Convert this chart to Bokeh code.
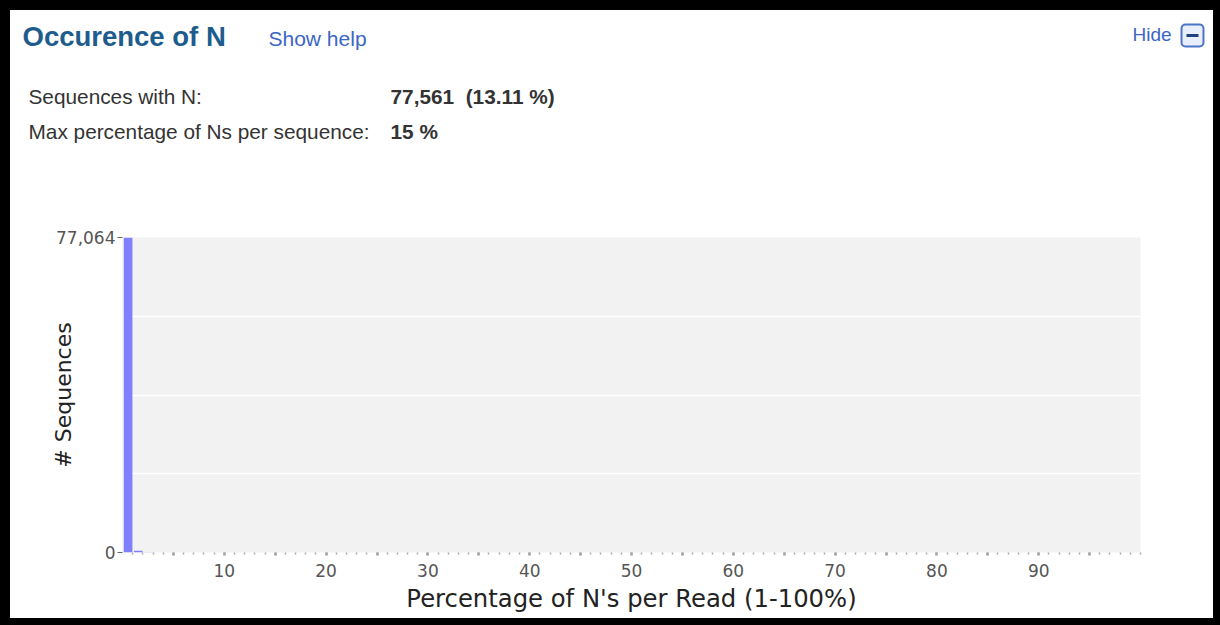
from bokeh.plotting import figure
from bokeh.layouts import column
from bokeh.models import Range1d, FixedTicker, NumeralTickFormatter, ColumnDataSource
from bokeh.core.properties import value
from bokeh.transform import dodge
from bokeh.embed import file_html
from bokeh.resources import INLINE

# Histogram of N content per read (percentage bins 1..100)
pct_bins = [1, 2, 3, 4, 5, 6, 7, 8, 9, 10, 11, 12, 13, 14, 15]
seq_counts = [77064, 398, 61, 17, 8, 4, 3, 2, 1, 1, 1, 0, 0, 0, 1]

title_text = "Occurence of N"
help_text = "Show help"
hide_text = "Hide"
stat_names = ["Sequences with N:", "Max percentage of Ns per sequence:"]
stat_values = ["77,561\u00a0 (13.11 %)", "15 %"]

x_label_ticks = [10, 20, 30, 40, 50, 60, 70, 80, 90]
x_major_ticks = list(range(5, 100, 5))
x_minor_ticks = list(range(1, 101))

INNER_W = 1203
HEAD_H = 207
PLOT_H = 401
y_max = max(seq_counts)

# ---- header panel: page-pixel coordinates (y grows downward) ----
head = figure(width=INNER_W, height=HEAD_H, output_backend="svg", toolbar_location=None,
              x_range=Range1d(10, 10 + INNER_W), y_range=Range1d(10 + HEAD_H, 10),
              min_border_left=0, min_border_right=0, min_border_top=0, min_border_bottom=0)
head.frame_align = False
head.axis.visible = False
head.grid.visible = False
head.outline_line_color = None
head.background_fill_color = "white"
head.border_fill_color = "white"

def head_text(x, y, txt, size, color, style="normal"):
    head.text(x=[x], y=[y], text=[txt], text_font=value("Liberation Sans"),
              text_font_size=size, text_color=color, text_font_style=style,
              text_baseline="middle", text_align="left")

head_text(22, 36, title_text, "27.5px", "#1d5d8d", "bold")
head_text(268, 38, help_text, "21px", "#3a66c4")
head_text(1132, 34, hide_text, "19px", "#3a66c4")
for i, (name, val) in enumerate(zip(stat_names, stat_values)):
    yy = 96 + 35 * i
    head_text(28, yy, name, "20.8px", "#333333")
    head_text(390, yy, val, "20.8px", "#333333", "bold")

# collapse button next to "Hide"
head.quad(left=[1181], right=[1203], top=[24], bottom=[46], fill_color="#e9eefb",
          line_color="#4a74c8", line_width=2, border_radius=4)
head.segment(x0=[1186], x1=[1198], y0=[35], y1=[35], line_color="#22407e", line_width=3)

# ---- histogram panel ----
src = ColumnDataSource(dict(pct=pct_bins, n=seq_counts))

p = figure(width=INNER_W, height=PLOT_H, output_backend="svg", toolbar_location=None,
           x_range=Range1d(0, 100), y_range=Range1d(0, y_max),
           min_border_left=112, min_border_right=73,
           min_border_top=20, min_border_bottom=66)
p.frame_align = False
p.border_fill_color = "white"
p.background_fill_color = "#f2f2f2"
p.outline_line_color = None

p.vbar(x=dodge("pct", -0.45, range=p.x_range), top="n", bottom=0, width=0.85,
       source=src, fill_color="#8080ff", line_color=None)

# x axis: dotted ticks every percent, labels every ten
xa = p.xaxis[0]
xa.ticker = FixedTicker(ticks=x_major_ticks, minor_ticks=x_minor_ticks)
xa.major_label_overrides = {t: "" for t in x_major_ticks if t not in x_label_ticks}
xa.axis_line_color = None
xa.major_tick_in = 0
xa.major_tick_out = 3
xa.major_tick_line_width = 2.5
xa.major_tick_line_color = "#999999"
xa.minor_tick_in = 0
xa.minor_tick_out = 2
xa.minor_tick_line_width = 1.5
xa.minor_tick_line_color = "#aaaaaa"
xa.major_label_text_font = "DejaVu Sans"
xa.major_label_text_font_size = "17px"
xa.major_label_text_color = "#555555"
xa.major_label_standoff = 8
xa.axis_label = "Percentage of N's per Read (1-100%)"
xa.axis_label_text_font = "DejaVu Sans"
xa.axis_label_text_font_size = "24.3px"
xa.axis_label_text_font_style = "normal"
xa.axis_label_text_color = "#222222"
xa.axis_label_standoff = 4

# y axis: only zero and the maximum are labelled
ya = p.yaxis[0]
ya.ticker = FixedTicker(ticks=[0, y_max])
ya.formatter = NumeralTickFormatter(format="0,0")
ya.axis_line_color = None
ya.major_tick_in = 0
ya.major_tick_out = 5
ya.major_tick_line_color = "#666666"
ya.minor_tick_line_color = None
ya.major_label_text_font = "DejaVu Sans"
ya.major_label_text_font_size = "17px"
ya.major_label_text_color = "#555555"
ya.major_label_standoff = 2
ya.axis_label = "# Sequences"
ya.axis_label_text_font = "DejaVu Sans"
ya.axis_label_text_font_size = "22px"
ya.axis_label_text_font_style = "normal"
ya.axis_label_text_color = "#222222"
ya.axis_label_standoff = -23

p.xgrid.grid_line_color = None
p.ygrid.ticker = FixedTicker(ticks=[y_max * k / 4 for k in (1, 2, 3)])
p.ygrid.grid_line_color = "white"
p.ygrid.grid_line_width = 1.5

# black frame around the whole panel
layout = column(head, p, spacing=0,
                styles={"background-color": "white", "border-style": "solid",
                        "border-color": "black", "border-width": "10px 7px 7px 10px"})

open("out.html", "w").write(file_html(layout, INLINE))
